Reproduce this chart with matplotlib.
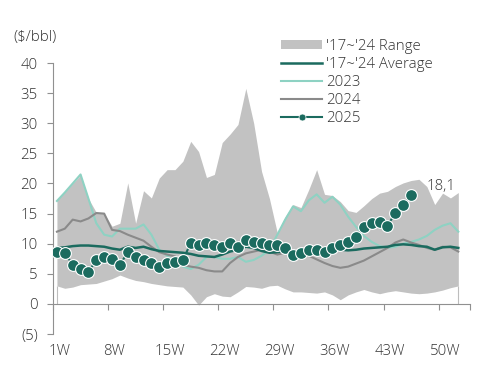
import numpy as np
import matplotlib
matplotlib.use("Agg")
import matplotlib.pyplot as plt
from matplotlib.lines import Line2D
from matplotlib.patches import Patch

plt.rcParams["font.family"] = ["Open Sans", "DejaVu Sans"]

weeks = np.arange(1, 53)

range_hi = [17.2, 18.6, 20.0, 21.4, 17.5, 15.2, 15.0, 12.9, 13.4, 20.1,
            13.4, 18.8, 17.6, 20.9, 22.3, 22.3, 23.7, 27.0, 25.3, 21.0,
            21.5, 26.8, 28.2, 29.8, 35.8, 30.0, 22.0, 17.5, 11.8, 14.5,
            16.5, 16.0, 19.0, 22.3, 18.2, 18.0, 17.0, 15.5, 15.2, 16.3,
            17.5, 18.4, 18.7, 19.5, 20.1, 20.5, 20.7, 19.5, 16.5, 18.4,
            17.6, 18.5]
range_lo = [3.0, 2.6, 2.8, 3.2, 3.3, 3.4, 3.8, 4.2, 4.8, 4.3,
            3.9, 3.7, 3.4, 3.2, 3.0, 2.9, 2.8, 1.5, -0.2, 1.2,
            1.7, 1.3, 1.2, 2.0, 2.9, 2.8, 2.6, 3.0, 3.1, 2.5,
            2.0, 2.0, 1.9, 1.8, 2.0, 1.5, 0.7, 1.5, 2.0, 2.4,
            2.0, 1.7, 2.0, 2.2, 2.0, 1.8, 1.7, 1.8, 2.0, 2.3,
            2.7, 3.0]
avg = [9.3, 9.4, 9.6, 9.7, 9.7, 9.6, 9.5, 9.2, 9.0, 9.5,
       9.3, 9.5, 9.1, 8.8, 8.7, 8.6, 8.5, 8.3, 8.0, 7.9,
       7.8, 8.2, 8.7, 9.0, 9.5, 9.3, 8.8, 8.5, 8.6, 8.8,
       8.6, 8.7, 8.9, 8.8, 8.9, 9.0, 9.0, 8.9, 9.0, 9.2,
       9.3, 9.4, 9.5, 9.8, 9.9, 9.8, 9.6, 9.5, 9.0, 9.4,
       9.5, 9.3]
y2023 = [17.1, 18.5, 20.0, 21.5, 17.5, 13.4, 11.5, 11.2, 12.5, 12.5,
         12.5, 13.2, 11.5, 9.0, 8.0, 7.0, 6.2, 5.8, 6.5, 7.8,
         7.8, 7.5, 7.5, 7.8, 7.0, 7.3, 8.0, 9.0, 11.5, 14.0,
         16.2, 15.4, 17.2, 18.2, 16.8, 17.8, 16.5, 14.5, 12.8, 11.3,
         10.3, 9.6, 9.3, 9.5, 10.0, 10.3, 10.7, 11.3, 12.3, 13.0,
         13.4, 12.0]
y2024 = [12.0, 12.5, 14.0, 13.7, 14.2, 15.1, 15.0, 12.3, 12.1, 11.5,
         11.0, 10.5, 9.5, 8.6, 8.2, 7.9, 6.5, 6.2, 6.0, 5.6,
         5.4, 5.4, 6.8, 7.8, 8.4, 8.7, 9.0, 8.7, 8.2, 8.5,
         8.6, 8.4, 8.0, 7.4, 6.8, 6.3, 6.0, 6.2, 6.7, 7.2,
         7.9, 8.6, 9.3, 10.2, 10.7, 10.2, 9.8, 9.3, 9.0, 9.5,
         9.4, 8.7]
y2025 = [8.6, 8.5, 6.5, 5.8, 5.3, 7.3, 7.8, 7.5, 6.5, 8.6,
         7.8, 7.3, 6.8, 6.1, 6.8, 7.0, 7.3, 10.1, 9.8, 10.1,
         9.8, 9.5, 10.1, 9.5, 10.6, 10.3, 10.1, 9.8, 9.8, 9.3,
         8.1, 8.5, 9.0, 9.0, 8.6, 9.3, 9.8, 10.3, 11.1, 12.8,
         13.4, 13.6, 13.0, 15.1, 16.4, 18.1]

y_ticks = [-5, 0, 5, 10, 15, 20, 25, 30, 35, 40]
y_labels = ["(5)", "0", "5", "10", "15", "20", "25", "30", "35", "40"]
x_label_weeks = [1, 8, 15, 22, 29, 36, 43, 50]

GRAY = "#c2c2c2"
DARK = "#1b6b5f"
LIGHT = "#8ed2c3"
MID = "#8a8a8a"
TXT = "#333333"
FS = 10.8

fig = plt.figure(figsize=(4.89, 3.72), dpi=100, facecolor="white")
ax = fig.add_axes([0.1084, 0.102, 0.853, 0.7285])

ax.fill_between(weeks, range_lo, range_hi, color=GRAY, linewidth=0, zorder=1)
ax.vlines([weeks[0], weeks[-1]], 0, [range_lo[0], range_lo[-1]],
          color="#bdbdbd", linewidth=0.8, zorder=1)
ax.plot(weeks, y2023, color=LIGHT, linewidth=1.5, zorder=3)
ax.plot(weeks, y2024, color=MID, linewidth=1.5, zorder=3)
ax.plot(weeks, avg, color=DARK, linewidth=1.8, zorder=4)
w25 = weeks[:len(y2025)]
ax.plot(w25, y2025, color=DARK, linewidth=1.5, marker="o", markersize=8.5,
        markerfacecolor=DARK, markeredgecolor="white", markeredgewidth=0.8,
        zorder=5)
ax.annotate(f"{y2025[-1]:.1f}".replace(".", ","), (w25[-1], y2025[-1]),
            xytext=(11, 6), textcoords="offset points",
            fontsize=FS, color=TXT, va="center", ha="left", fontweight="light")

ax.set_xlim(0.5, 53.5)
ax.set_ylim(-5, 40)
ax.set_yticks(y_ticks)
ax.set_yticklabels(y_labels, fontsize=FS, color=TXT, fontweight="light")
ax.tick_params(axis="y", direction="out", length=4, width=0.8,
               color="#909090", pad=7)

ax.spines["top"].set_visible(False)
ax.spines["right"].set_visible(False)
ax.spines["left"].set_color("#909090")
ax.spines["bottom"].set_color("#909090")
ax.spines["bottom"].set_position(("data", 0))
ax.set_xticks([w - 0.5 for w in x_label_weeks] + [53.5])
ax.set_xticklabels([])
ax.tick_params(axis="x", direction="out", length=4, width=0.8, color="#909090")
for w in x_label_weeks:
    ax.annotate(f"{w}W", (w + 0.3, -5), xytext=(0, -7),
                textcoords="offset points", fontsize=FS, color=TXT,
                ha="center", va="top", fontweight="light")

fig.text(0.027, 0.9, "($/bbl)", fontsize=FS, color=TXT, ha="left",
         va="center", fontweight="light")

handles = [
    Patch(facecolor=GRAY, edgecolor="none"),
    Line2D([], [], color=DARK, linewidth=1.8),
    Line2D([], [], color=LIGHT, linewidth=1.5),
    Line2D([], [], color=MID, linewidth=1.5),
    Line2D([], [], color=DARK, linewidth=1.5, marker="o", markersize=5,
           markerfacecolor=DARK, markeredgecolor="white", markeredgewidth=0.5),
]
labels = ["'17~'24 Range", "'17~'24 Average", "2023", "2024", "2025"]
leg = fig.legend(handles, labels, loc="upper left",
                 bbox_to_anchor=(0.56, 0.915), frameon=False, fontsize=FS,
                 handlelength=2.7, handleheight=0.55, handletextpad=0.26,
                 labelspacing=0.2, borderpad=0, numpoints=1)
for t in leg.get_texts():
    t.set_color(TXT)
    t.set_fontweight("light")

fig.savefig("out.png", dpi=100, facecolor="white")
